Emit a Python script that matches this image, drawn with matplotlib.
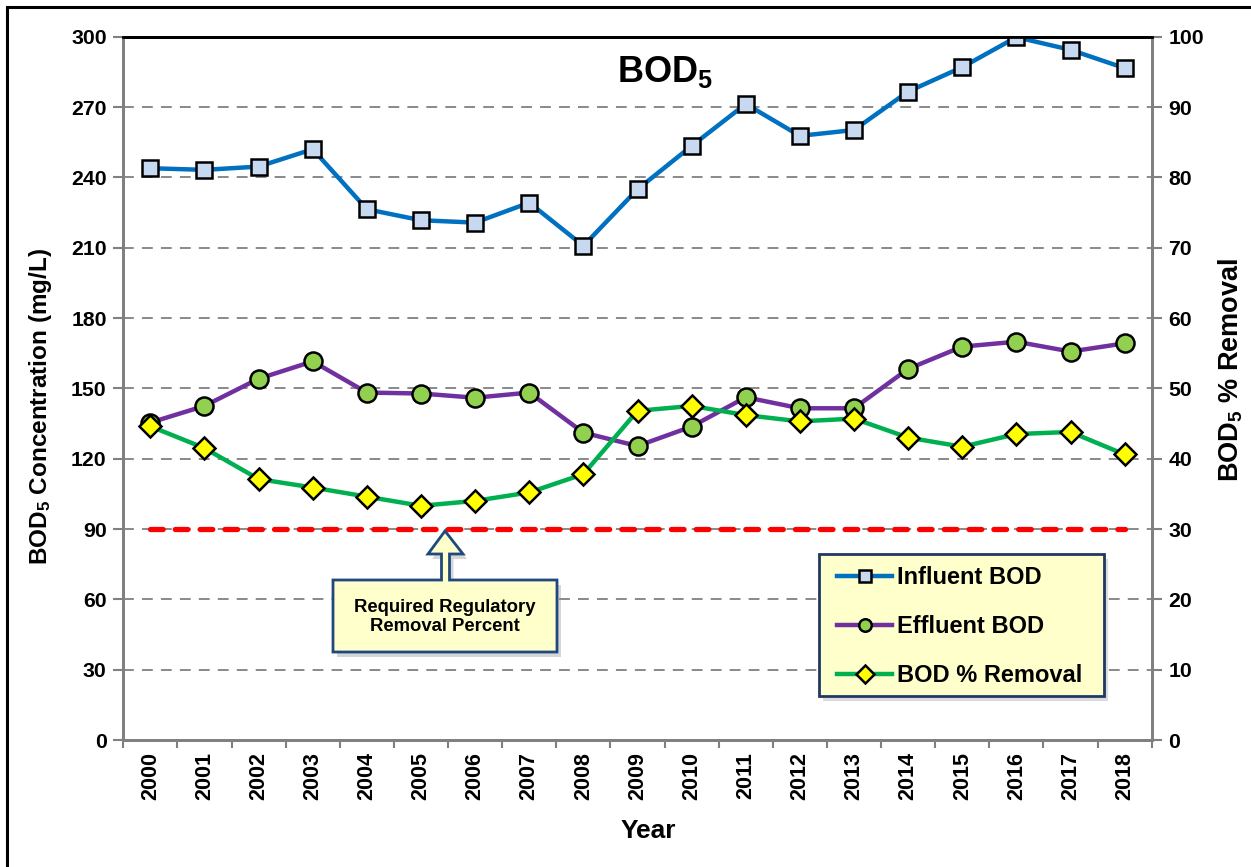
import matplotlib
matplotlib.use("Agg")
import matplotlib.pyplot as plt
from matplotlib.patches import Polygon, Rectangle

plt.rcParams['font.family'] = ['Liberation Sans', 'DejaVu Sans']
plt.rcParams['font.weight'] = 'bold'
plt.rcParams['mathtext.fontset'] = 'custom'
plt.rcParams['mathtext.rm'] = 'Liberation Sans:bold'
plt.rcParams['mathtext.it'] = 'Liberation Sans:bold'
plt.rcParams['mathtext.bf'] = 'Liberation Sans:bold'

# ---------------- data ----------------
years = ["2000", "2001", "2002", "2003", "2004", "2005", "2006", "2007", "2008", "2009",
         "2010", "2011", "2012", "2013", "2014", "2015", "2016", "2017", "2018"]
influent_bod = [243.9, 243.2, 244.6, 252.0, 226.4, 221.7, 220.7, 229.2, 210.8, 234.9,
                253.4, 271.3, 257.7, 260.2, 276.6, 287.0, 299.8, 294.4, 286.6]
effluent_bod = [135.4, 142.5, 154.1, 161.5, 148.2, 147.8, 146.0, 148.2, 131.1, 125.4,
                133.7, 146.2, 141.5, 141.5, 158.3, 167.8, 169.9, 165.7, 169.2]
removal_pct = [44.6, 41.5, 37.1, 35.9, 34.6, 33.3, 34.0, 35.2, 37.8, 46.8,
               47.5, 46.2, 45.3, 45.7, 43.0, 41.7, 43.5, 43.8, 40.6]
required_pct = 30
left_ticks = [0, 30, 60, 90, 120, 150, 180, 210, 240, 270, 300]
right_ticks = [0, 10, 20, 30, 40, 50, 60, 70, 80, 90, 100]

W, H = 1251, 867
fig = plt.figure(figsize=(W / 100, H / 100), dpi=100)
fig.patch.set_facecolor('white')

def px(x, y):
    return (x / W, 1 - y / H)

# outer border
fig.patches.append(Rectangle(px(7, 880), (W + 20) / W, (880 - 7) / H, transform=fig.transFigure,
                             fill=False, edgecolor='black', linewidth=2.2, zorder=0))

L, R, T, B = 123.3, 1151.7, 36.7, 740.0
ax = fig.add_axes([L / W, 1 - B / H, (R - L) / W, (B - T) / H])
ax2 = ax.twinx()

x = list(range(len(years)))
grey = '#808080'

ax.set_xlim(-0.5, len(years) - 0.5)
ax.set_ylim(0, 300)
ax2.set_ylim(0, 100)
ax.set_yticks(left_ticks)
ax2.set_yticks(right_ticks)
ax.set_xticks(x)
ax.set_xticklabels(years, rotation=90, fontsize=15.5, fontweight='bold')
ax.set_yticklabels([str(v) for v in left_ticks], fontsize=15.3, fontweight='bold')
ax2.set_yticklabels([str(v) for v in right_ticks], fontsize=15.3, fontweight='bold')

# category ticks at boundaries
ax.set_xticks([i - 0.5 for i in range(len(years) + 1)], minor=True)
ax.tick_params(axis='x', which='major', length=0, pad=9)
ax.tick_params(axis='x', which='minor', length=6, color=grey, width=1.5)
ax.tick_params(axis='y', length=7, color=grey, width=1.5, pad=5)
ax2.tick_params(axis='y', length=7, color=grey, width=1.5, pad=5)

for a in (ax, ax2):
    for s in ('left', 'right', 'bottom'):
        a.spines[s].set_color(grey)
        a.spines[s].set_linewidth(2)
    a.spines['top'].set_color('black')
    a.spines['top'].set_linewidth(2)

for v in left_ticks[1:-1]:
    ax.axhline(v, color=grey, linewidth=1.3, dashes=(6, 4.5), zorder=0)

# data series
l1, = ax.plot(x, influent_bod, color='#0070C0', linewidth=3.2, marker='s', markersize=12,
              markerfacecolor='#C6D9F1', markeredgecolor='black', markeredgewidth=1.8,
              label='Influent BOD', zorder=5)
l2, = ax.plot(x, effluent_bod, color='#7030A0', linewidth=3.2, marker='o', markersize=13,
              markerfacecolor='#92D050', markeredgecolor='black', markeredgewidth=1.8,
              label='Effluent BOD', zorder=5)
l3, = ax2.plot(x, removal_pct, color='#00B050', linewidth=3.2, marker='D', markersize=11,
               markerfacecolor='#FFFF00', markeredgecolor='black', markeredgewidth=1.8,
               label='BOD % Removal', zorder=6)
ax2.plot(x, [required_pct] * len(x), color='#FF0000', linewidth=3.8, dashes=(2.4, 2.3),
         dash_capstyle='round', zorder=4)

ax.set_zorder(2)
ax2.set_zorder(3)
ax.patch.set_visible(False)

# axis titles
fig.text(*px(41, 407), 'BOD$_5$ Concentration (mg/L)', fontsize=17.5, fontweight='bold',
         rotation=90, ha='center', va='center')
fig.text(*px(1231, 370), 'BOD$_5$ % Removal', fontsize=19.5, fontweight='bold',
         rotation=90, ha='center', va='center')
fig.text(*px(648, 831), 'Year', fontsize=19, fontweight='bold', ha='center', va='center')

fig.text(*px(617, 82), 'BOD$_5$', fontsize=26, fontweight='bold', ha='left', va='baseline')

# legend: custom frame + frameless legend entries
lx0, ly0, lx1, ly1 = 819.3, 554, 1104.3, 696
ax2.add_patch(Rectangle(px(lx0 + 4, ly1 + 5), (lx1 - lx0) / W, (ly1 - ly0) / H,
                        transform=fig.transFigure, facecolor='#999999', alpha=0.35,
                        edgecolor='none', zorder=8))
ax2.add_patch(Rectangle(px(lx0, ly1), (lx1 - lx0) / W, (ly1 - ly0) / H,
                        transform=fig.transFigure, facecolor='#FFFFCC', edgecolor='#1F3864',
                        linewidth=2, zorder=9))
leg = ax2.legend(handles=[l1, l2, l3], loc='upper left',
                 bbox_to_anchor=px(837, 566.5), bbox_transform=fig.transFigure,
                 borderaxespad=0, borderpad=0, frameon=False,
                 handlelength=2.35, labelspacing=1.1, handletextpad=0.2,
                 prop={'weight': 'bold', 'size': 17})
leg.set_zorder(10)
for h in leg.legend_handles:
    h.set_markersize(9)

# callout
pts = [(333, 580), (441.5, 580), (441.5, 554), (428, 554), (445, 531), (463, 554),
       (449.5, 554), (449.5, 580), (557, 580), (557, 652), (333, 652)]
shadow = Polygon([px(a + 4, b + 5) for a, b in pts], closed=True, transform=fig.transFigure,
                 facecolor='#999999', alpha=0.4, edgecolor='none', zorder=6)
callout = Polygon([px(a, b) for a, b in pts], closed=True, transform=fig.transFigure,
                  facecolor='#FFFFCC', edgecolor='#1F497D', linewidth=2, zorder=7)
fig.patches.append(shadow)
fig.patches.append(callout)
fig.text(*px(445, 617), 'Required Regulatory\nRemoval Percent', fontsize=13.3, fontweight='bold',
         ha='center', va='center', linespacing=1.15, zorder=8)

fig.savefig('out.png', dpi=100)
